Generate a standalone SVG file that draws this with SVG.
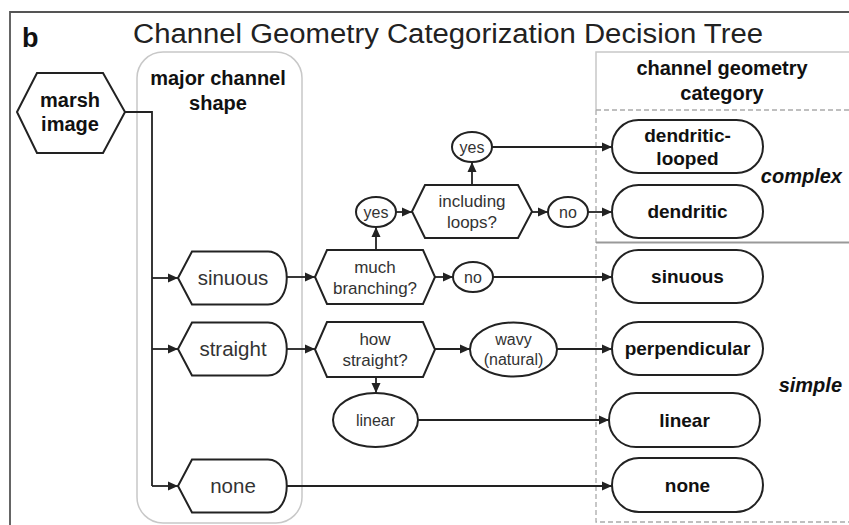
<svg xmlns="http://www.w3.org/2000/svg" width="849" height="525" viewBox="0 0 849 525">
<defs>
<marker id="ah" viewBox="0 0 10 10" refX="10" refY="5" markerWidth="10" markerHeight="10" markerUnits="userSpaceOnUse" orient="auto">
<path d="M0,0.5 L10,5 L0,9.5 Z" fill="#222"/>
</marker>
</defs>
<style>
.node{fill:#fff;stroke:#222;stroke-width:2}
.conn{fill:none;stroke:#222;stroke-width:1.8}
.t{font-family:"Liberation Sans",Arial,sans-serif;fill:#333;text-anchor:middle}
.tl{font-size:20.5px}
.ti{font-size:17px}
.te{font-size:16px}
.b{font-family:"Liberation Sans",Arial,sans-serif;font-weight:bold;fill:#111;text-anchor:middle;font-size:19px}
.h{font-family:"Liberation Sans",Arial,sans-serif;font-weight:bold;fill:#111;text-anchor:middle;font-size:20px}
.frame{fill:none;stroke:#555;stroke-width:1.8}
.grey{fill:none;stroke:#c8c8c8;stroke-width:1.5}
.dash{fill:none;stroke:#aaa;stroke-width:1.3;stroke-dasharray:5,3}
</style>
<rect width="849" height="525" fill="#fff"/>
<g id="frame">
<path class="frame" d="M10,525 V12 H849"/>
<text x="22" y="47" font-family="Liberation Sans,Arial,sans-serif" font-weight="bold" font-size="27" fill="#111">b</text>
<text x="133" y="43" font-family="Liberation Sans,Arial,sans-serif" font-size="27" fill="#222" textLength="630" lengthAdjust="spacingAndGlyphs">Channel Geometry Categorization Decision Tree</text>
</g>
<g id="column-major">
<rect class="grey" x="137" y="52" width="165" height="471" rx="26"/>
<text class="h" x="218" y="85">major channel</text>
<text class="h" x="218" y="110">shape</text>
</g>
<g id="column-category">
<path class="grey" d="M849,52 H596 V110"/>
<path class="dash" d="M596,110 H849 M596,110 V522 H849"/>
<path d="M596,242.5 H849" stroke="#999" stroke-width="2"/>
<text class="h" x="722" y="75">channel geometry</text>
<text class="h" x="722" y="100">category</text>
<text x="842" y="183" font-family="Liberation Sans,Arial,sans-serif" font-weight="bold" font-style="italic" font-size="20" fill="#111" text-anchor="end">complex</text>
<text x="842" y="392" font-family="Liberation Sans,Arial,sans-serif" font-weight="bold" font-style="italic" font-size="20" fill="#111" text-anchor="end">simple</text>
</g>
<g id="connectors">
<path class="conn" d="M125,112 H152 V486"/>
<path class="conn" d="M152,278 H178" marker-end="url(#ah)"/>
<path class="conn" d="M152,349 H178" marker-end="url(#ah)"/>
<path class="conn" d="M152,486 H178" marker-end="url(#ah)"/>
<path class="conn" d="M287,277 H315" marker-end="url(#ah)"/>
<path class="conn" d="M287,349 H315" marker-end="url(#ah)"/>
<path class="conn" d="M376,250 V227" marker-end="url(#ah)"/>
<path class="conn" d="M396,212 H412" marker-end="url(#ah)"/>
<path class="conn" d="M472,185 V162" marker-end="url(#ah)"/>
<path class="conn" d="M492,147 H612" marker-end="url(#ah)"/>
<path class="conn" d="M532,212 H548" marker-end="url(#ah)"/>
<path class="conn" d="M588,212 H612" marker-end="url(#ah)"/>
<path class="conn" d="M435,277 H453" marker-end="url(#ah)"/>
<path class="conn" d="M493,277 H612" marker-end="url(#ah)"/>
<path class="conn" d="M435,349 H470" marker-end="url(#ah)"/>
<path class="conn" d="M557,349 H612" marker-end="url(#ah)"/>
<path class="conn" d="M376,377 V393" marker-end="url(#ah)"/>
<path class="conn" d="M418,420 H609" marker-end="url(#ah)"/>
<path class="conn" d="M287,486 H612" marker-end="url(#ah)"/>
</g>
<g id="marsh-image">
<path class="node" d="M17,112 L37,73 H103 L125,112 L103,153 H37 Z"/>
<text class="h" x="70" y="107">marsh</text>
<text class="h" x="70" y="131">image</text>
</g>
<g id="shape-sinuous">
<path class="node" d="M178,278 L192,251.5 H268 C293,251.5 293,304.5 268,304.5 H192 Z"/>
<text class="t tl" x="233" y="285">sinuous</text>
</g>
<g id="shape-straight">
<path class="node" d="M178,349 L192,322.5 H268 C293,322.5 293,375.5 268,375.5 H192 Z"/>
<text class="t tl" x="233" y="356">straight</text>
</g>
<g id="shape-none">
<path class="node" d="M178,486 L192,459.5 H268 C293,459.5 293,512.5 268,512.5 H192 Z"/>
<text class="t tl" x="233" y="493">none</text>
</g>
<g id="much-branching">
<path class="node" d="M315,277 L327,250 H423 L435,277 L423,304 H327 Z"/>
<text class="t ti" x="375" y="273">much</text>
<text class="t ti" x="375" y="294">branching?</text>
</g>
<g id="yes-branching">
<ellipse class="node" cx="376" cy="212" rx="20" ry="15"/>
<text class="t te" x="376" y="218">yes</text>
</g>
<g id="including-loops">
<path class="node" d="M412,211.5 L425,185 H518 L532,211.5 L518,238 H425 Z"/>
<text class="t ti" x="472" y="207">including</text>
<text class="t ti" x="472" y="228">loops?</text>
</g>
<g id="yes-loops">
<ellipse class="node" cx="472" cy="147" rx="20" ry="15"/>
<text class="t te" x="472" y="153">yes</text>
</g>
<g id="no-loops">
<ellipse class="node" cx="568" cy="212" rx="20" ry="15"/>
<text class="t te" x="568" y="218">no</text>
</g>
<g id="no-branching">
<ellipse class="node" cx="473" cy="277" rx="20" ry="15"/>
<text class="t te" x="473" y="283">no</text>
</g>
<g id="how-straight">
<path class="node" d="M315,349.5 L327,322 H423 L435,349.5 L423,377 H327 Z"/>
<text class="t ti" x="375" y="345">how</text>
<text class="t ti" x="375" y="366">straight?</text>
</g>
<g id="wavy">
<ellipse class="node" cx="513.5" cy="349.5" rx="43.5" ry="27"/>
<text class="t te" x="513.5" y="345">wavy</text>
<text class="t te" x="513.5" y="365">(natural)</text>
</g>
<g id="linear-oval">
<ellipse class="node" cx="375.5" cy="420" rx="42.5" ry="27"/>
<text class="t te" x="375.5" y="426">linear</text>
</g>
<g id="cat-dendritic-looped">
<rect class="node" x="612" y="120" width="151" height="53" rx="26.5"/>
<text class="b" x="687.5" y="142">dendritic-</text>
<text class="b" x="687.5" y="165">looped</text>
</g>
<g id="cat-dendritic">
<rect class="node" x="612" y="185" width="151" height="53" rx="26.5"/>
<text class="b" x="687.5" y="218">dendritic</text>
</g>
<g id="cat-sinuous">
<rect class="node" x="612" y="250" width="151" height="53" rx="26.5"/>
<text class="b" x="687.5" y="283">sinuous</text>
</g>
<g id="cat-perpendicular">
<rect class="node" x="612" y="322" width="151" height="53" rx="26.5"/>
<text class="b" x="687.5" y="355">perpendicular</text>
</g>
<g id="cat-linear">
<rect class="node" x="609" y="393" width="151" height="54" rx="27"/>
<text class="b" x="684.5" y="427">linear</text>
</g>
<g id="cat-none">
<rect class="node" x="612" y="458" width="151" height="54" rx="27"/>
<text class="b" x="687.5" y="492">none</text>
</g>
</svg>
